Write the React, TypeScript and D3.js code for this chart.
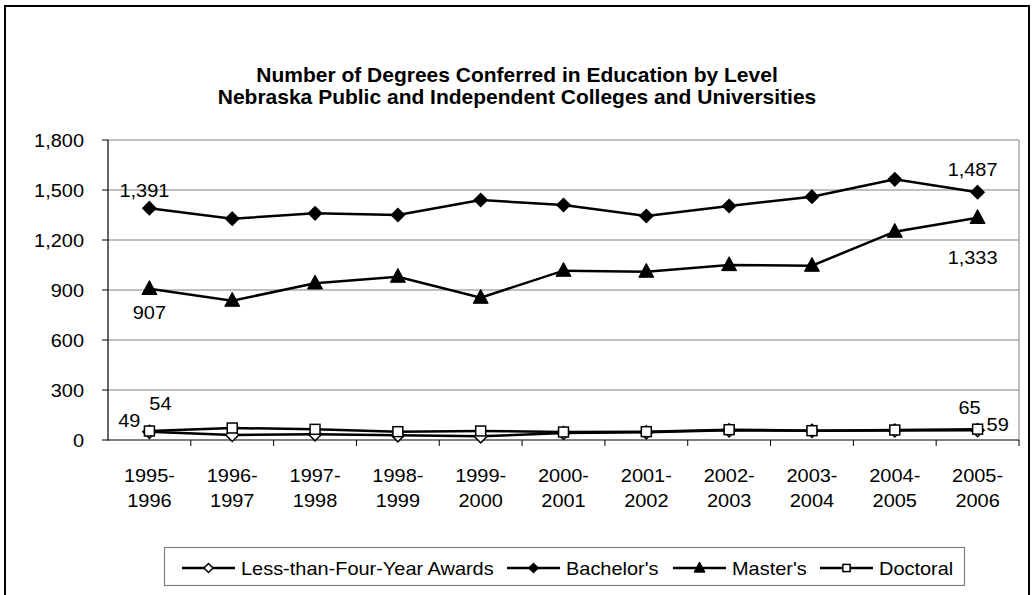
import React, { useEffect, useRef } from "react";
import * as d3 from "d3";

const categories = ["1995-1996","1996-1997","1997-1998","1998-1999","1999-2000","2000-2001","2001-2002","2002-2003","2003-2004","2004-2005","2005-2006"];
const lessThanFour = [49, 30, 34, 28, 22, 42, 46, 58, 55, 57, 59];
const bachelors = [1391, 1328, 1360, 1350, 1440, 1410, 1344, 1404, 1460, 1564, 1487];
const masters = [907, 836, 940, 980, 854, 1016, 1010, 1050, 1046, 1250, 1333];
const doctoral = [54, 72, 64, 50, 54, 48, 50, 62, 56, 60, 65];
const yTicks = [0, 300, 600, 900, 1200, 1500, 1800];
const titleLines = ["Number of Degrees Conferred in Education by Level", "Nebraska Public and Independent Colleges and Universities"];

const series = [
  { name: "Less-than-Four-Year Awards", values: lessThanFour, marker: "diamondOpen" },
  { name: "Bachelor's", values: bachelors, marker: "diamond" },
  { name: "Master's", values: masters, marker: "triangle" },
  { name: "Doctoral", values: doctoral, marker: "square" },
];

const FONT = "Liberation Sans, Arial, sans-serif";
const SX = 1.05;

function drawMarker(g: any, type: string, x: number, y: number, s: number) {
  if (type === "diamondOpen" || type === "diamond") {
    g.append("path")
      .attr("d", `M${x},${y - s}L${x + s},${y}L${x},${y + s}L${x - s},${y}Z`)
      .attr("fill", type === "diamond" ? "#000" : "#fff")
      .attr("stroke", "#000").attr("stroke-width", 1.5);
  } else if (type === "triangle") {
    g.append("path")
      .attr("d", `M${x},${y - s * 1.1}L${x + s},${y + s * 0.75}L${x - s},${y + s * 0.75}Z`)
      .attr("fill", "#000").attr("stroke", "#000").attr("stroke-width", 1);
  } else {
    g.append("rect")
      .attr("x", x - s * 0.8).attr("y", y - s * 0.8)
      .attr("width", s * 1.6).attr("height", s * 1.6)
      .attr("fill", "#fff").attr("stroke", "#000").attr("stroke-width", 1.5);
  }
}

function txt(g: any, t: string, x: number, y: number, opts: { anchor?: string; size?: number; bold?: boolean } = {}) {
  return g.append("text")
    .attr("transform", `translate(${x},${y}) scale(${SX},1)`)
    .attr("text-anchor", opts.anchor || "middle")
    .attr("font-family", FONT)
    .attr("font-weight", opts.bold ? "bold" : "normal")
    .attr("font-size", opts.size || 19)
    .text(t);
}

export default function App() {
  const ref = useRef<SVGSVGElement>(null);
  useEffect(() => {
    const svg = d3.select(ref.current);
    svg.selectAll("*").remove();
    const W = 1035, H = 595;
    svg.append("rect").attr("width", W).attr("height", H).attr("fill", "#fff");
    svg.append("rect").attr("x", 5).attr("y", 6).attr("width", 1024).attr("height", 600)
      .attr("fill", "none").attr("stroke", "#000").attr("stroke-width", 2);

    const left = 108, right = 1019, top = 140, bottom = 440;
    const x = d3.scaleBand().domain(categories).range([left, right]);
    const y = d3.scaleLinear().domain([0, 1800]).range([bottom, top]);
    const cx = (i: number) => (x(categories[i]) as number) + x.bandwidth() / 2;

    // title
    titleLines.forEach((t, i) => {
      txt(svg, t, 517, 82 + i * 22, { bold: true, size: 20 });
    });

    // grid
    yTicks.forEach((v) => {
      if (v === 0) return;
      svg.append("line").attr("x1", left).attr("x2", right)
        .attr("y1", y(v)).attr("y2", y(v)).attr("stroke", "#808080").attr("stroke-width", 1);
    });
    svg.append("line").attr("x1", right).attr("x2", right).attr("y1", top).attr("y2", bottom)
      .attr("stroke", "#808080").attr("stroke-width", 1);

    // y axis
    svg.append("line").attr("x1", left).attr("x2", left).attr("y1", top).attr("y2", bottom + 0.5)
      .attr("stroke", "#000").attr("stroke-width", 1.2);
    yTicks.forEach((v) => {
      svg.append("line").attr("x1", left - 6).attr("x2", left).attr("y1", y(v)).attr("y2", y(v))
        .attr("stroke", "#000");
      txt(svg, d3.format(",")(v), 84, y(v) + 7, { anchor: "end" });
    });

    // x axis
    svg.append("line").attr("x1", left).attr("x2", right).attr("y1", bottom).attr("y2", bottom)
      .attr("stroke", "#000").attr("stroke-width", 1.2);
    categories.forEach((c, i) => {
      const xs = x(c) as number;
      svg.append("line").attr("x1", xs + x.bandwidth()).attr("x2", xs + x.bandwidth())
        .attr("y1", bottom).attr("y2", bottom + 6).attr("stroke", "#000");
      const parts = c.split("-");
      txt(svg, parts[0] + "-", cx(i), 482);
      txt(svg, parts[1], cx(i), 507);
    });

    // lines
    const line = d3.line<number>().x((_, i) => cx(i)).y((d) => y(d));
    const order = [series[1], series[2], series[0], series[3]];
    order.forEach((s) => {
      svg.append("path").attr("d", line(s.values) as string).attr("fill", "none")
        .attr("stroke", "#000").attr("stroke-width", 2.5);
    });
    const mg = svg.append("g");
    order.forEach((s) => {
      s.values.forEach((v, i) => {
        const size = s.marker === "triangle" ? 7.5 : s.marker === "square" ? 6.2 : 6.5;
        drawMarker(mg, s.marker, cx(i), y(v), size);
      });
    });

    // data labels
    const f = d3.format(",");
    const n = categories.length - 1;
    txt(svg, f(bachelors[0]), cx(0) - 5, y(bachelors[0]) - 11);
    txt(svg, f(masters[0]), cx(0), y(masters[0]) + 30);
    txt(svg, f(lessThanFour[0]), cx(0) - 9, y(lessThanFour[0]) - 5, { anchor: "end" });
    txt(svg, f(doctoral[0]), cx(0) + 11, y(doctoral[0]) - 21);
    txt(svg, f(bachelors[n]), cx(n) - 5, y(bachelors[n]) - 16);
    txt(svg, f(masters[n]), cx(n) - 5, y(masters[n]) + 46);
    txt(svg, f(doctoral[n]), cx(n) - 8, y(doctoral[n]) - 15);
    txt(svg, f(lessThanFour[n]), cx(n) + 9, y(lessThanFour[n]) + 1, { anchor: "start" });

    // legend
    svg.append("rect").attr("x", 164.5).attr("y", 547.5).attr("width", 800).attr("height", 38)
      .attr("fill", "#fff").attr("stroke", "#808080").attr("stroke-width", 1.2);
    const lx = [182, 507, 673, 820];
    const ly = 568;
    series.forEach((s, i) => {
      const x0 = lx[i];
      svg.append("line").attr("x1", x0).attr("x2", x0 + 53).attr("y1", ly).attr("y2", ly)
        .attr("stroke", "#000").attr("stroke-width", 2.5);
      const size = s.marker === "triangle" ? 5.5 : 4.5;
      drawMarker(svg, s.marker, x0 + 26.5, ly, size);
      txt(svg, s.name, x0 + 59, ly + 7, { anchor: "start" });
    });
  }, []);
  return <svg ref={ref} width={1035} height={595} style={{ position: "absolute", left: 0, top: 0, display: "block" }} />;
}
